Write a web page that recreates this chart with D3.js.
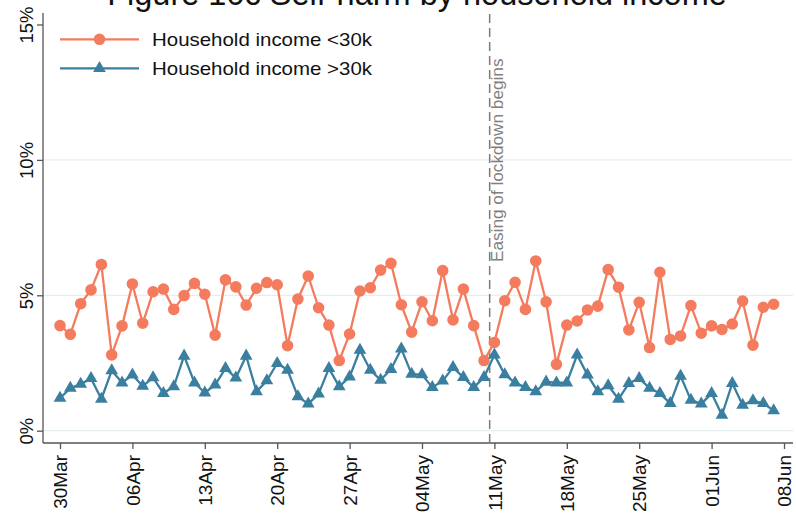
<!DOCTYPE html>
<html><head><meta charset="utf-8">
<script src="https://cdn.jsdelivr.net/npm/d3@7"></script>
<style>
html,body{margin:0;padding:0;background:#fff;}
svg{display:block;font-family:"Liberation Sans",Arial,sans-serif;}
</style>
</head><body>
<svg id="chart" width="796" height="521"></svg>
<script>
const title = "Figure 10c Self-harm by household income";
const seriesNames = ["Household income <30k", "Household income >30k"];
const dates = [
"2020-03-30","2020-03-31","2020-04-01","2020-04-02","2020-04-03","2020-04-04","2020-04-05",
"2020-04-06","2020-04-07","2020-04-08","2020-04-09","2020-04-10","2020-04-11","2020-04-12",
"2020-04-13","2020-04-14","2020-04-15","2020-04-16","2020-04-17","2020-04-18","2020-04-19",
"2020-04-20","2020-04-21","2020-04-22","2020-04-23","2020-04-24","2020-04-25","2020-04-26",
"2020-04-27","2020-04-28","2020-04-29","2020-04-30","2020-05-01","2020-05-02","2020-05-03",
"2020-05-04","2020-05-05","2020-05-06","2020-05-07","2020-05-08","2020-05-09","2020-05-10",
"2020-05-11","2020-05-12","2020-05-13","2020-05-14","2020-05-15","2020-05-16","2020-05-17",
"2020-05-18","2020-05-19","2020-05-20","2020-05-21","2020-05-22","2020-05-23","2020-05-24",
"2020-05-25","2020-05-26","2020-05-27","2020-05-28","2020-05-29","2020-05-30","2020-05-31",
"2020-06-01","2020-06-02","2020-06-03","2020-06-04","2020-06-05","2020-06-06","2020-06-07"];
const lowIncome = [
3.88,3.56,4.69,5.20,6.14,2.80,3.87,5.42,3.97,5.13,
5.23,4.48,4.99,5.44,5.04,3.53,5.57,5.31,4.64,5.26,
5.47,5.39,3.14,4.86,5.71,4.54,3.90,2.59,3.57,5.16,
5.28,5.93,6.18,4.65,3.64,4.76,4.06,5.91,4.09,5.23,
3.88,2.59,3.26,4.80,5.48,4.48,6.27,4.76,2.45,3.90,
4.05,4.46,4.60,5.95,5.30,3.72,4.74,3.07,5.85,3.37,
3.50,4.62,3.60,3.87,3.74,3.94,4.79,3.16,4.56,4.67];
const highIncome = [
1.20,1.57,1.72,1.93,1.17,2.22,1.77,2.06,1.65,1.96,
1.38,1.63,2.76,1.77,1.40,1.69,2.30,1.95,2.76,1.44,
1.85,2.49,2.24,1.26,0.99,1.36,2.30,1.63,1.99,2.98,
2.24,1.87,2.27,3.02,2.09,2.07,1.60,1.84,2.34,1.97,
1.60,1.97,2.80,2.07,1.77,1.60,1.44,1.80,1.77,1.77,
2.80,2.06,1.44,1.67,1.17,1.75,1.93,1.57,1.38,1.01,
2.02,1.13,0.99,1.38,0.58,1.75,0.95,1.11,1.01,0.74];
const xTickDates = ["2020-03-30","2020-04-06","2020-04-13","2020-04-20","2020-04-27","2020-05-04","2020-05-11","2020-05-18","2020-05-25","2020-06-01","2020-06-08"];
const xTickLabels = ["30Mar","06Apr","13Apr","20Apr","27Apr","04May","11May","18May","25May","01Jun","08Jun"];
const yTicks = [0,5,10,15];
const yGrid = [0,5,10];
const eventDate = "2020-05-10T13:00";
const eventLabel = "Easing of lockdown begins";

const colors = ["#F47B5D", "#3A7FA0"];
const parse = s => new Date(s.length > 10 ? s : s + "T00:00");

const svg = d3.select("#chart");
const x = d3.scaleTime().domain([parse(xTickDates[0]), parse(xTickDates[xTickDates.length-1])]).range([60, 784]);
const y = d3.scaleLinear().domain([0, 15]).range([430.7, 24.5]);
const axisY = 443, axisX = 43;

// gridlines
svg.append("g").selectAll("line").data(yGrid).join("line")
  .attr("x1", axisX).attr("x2", 793).attr("y1", d => y(d)).attr("y2", d => y(d))
  .attr("stroke", "#E6EEEF").attr("stroke-width", 1.2);

// title (cut off at the top, as in the reference)
svg.append("text").attr("x", 417).attr("y", 5).attr("text-anchor", "middle")
  .attr("font-size", 32.5).attr("fill", "#111").text(title);

// x axis
const xAxis = d3.axisBottom(x)
  .tickValues(xTickDates.map(parse))
  .tickFormat((d, i) => xTickLabels[i])
  .tickSize(6).tickSizeOuter(0);
const gx = svg.append("g").attr("transform", `translate(0,${axisY})`).call(xAxis);
gx.select(".domain").attr("d", `M${axisX},0H793`).attr("stroke", "#555").attr("stroke-width", 1.3);
gx.selectAll(".tick line").attr("stroke", "#555").attr("stroke-width", 1.3);
gx.selectAll(".tick text")
  .attr("font-size", 19).attr("fill", "#111").attr("font-family", "Liberation Sans, Arial, sans-serif")
  .attr("transform", "rotate(-90)").attr("text-anchor", "end")
  .attr("x", -12).attr("y", 0).attr("dy", "0.35em");

// y axis
const yAxis = d3.axisLeft(y).tickValues(yTicks).tickFormat(d => d + "%").tickSize(6).tickSizeOuter(0);
const gy = svg.append("g").attr("transform", `translate(${axisX},0)`).call(yAxis);
gy.select(".domain").attr("d", `M0,${axisY}V13`).attr("stroke", "#555").attr("stroke-width", 1.3);
gy.selectAll(".tick line").attr("stroke", "#555").attr("stroke-width", 1.3);
gy.selectAll(".tick text")
  .attr("font-size", 18.5).attr("fill", "#111").attr("font-family", "Liberation Sans, Arial, sans-serif")
  .attr("transform", "rotate(-90)").attr("text-anchor", "middle")
  .attr("x", 0).attr("y", -10).attr("dy", 0);

// event line
const ex = x(parse(eventDate));
svg.append("line").attr("x1", ex).attr("x2", ex).attr("y1", 14).attr("y2", axisY)
  .attr("stroke", "#7a7a7a").attr("stroke-width", 1.5).attr("stroke-dasharray", "9,5");
svg.append("text").attr("transform", `translate(${ex + 13},262) rotate(-90)`)
  .attr("font-size", 17.2).attr("fill", "#808080").text(eventLabel);

// series
const series = [lowIncome, highIncome];
const line = d3.line().x((d, i) => x(parse(dates[i]))).y(d => y(d));
const symbols = [d3.symbol().type(d3.symbolCircle).size(105), d3.symbol().type(d3.symbolTriangle).size(70)];
series.forEach((vals, k) => {
  svg.append("path").datum(vals).attr("d", line).attr("fill", "none")
    .attr("stroke", colors[k]).attr("stroke-width", 2.3).attr("stroke-linejoin", "round");
  svg.append("g").selectAll("path").data(vals).join("path")
    .attr("transform", (d, i) => `translate(${x(parse(dates[i]))},${y(d)})`)
    .attr("d", symbols[k]).attr("fill", colors[k]);
});

// legend
const leg = svg.append("g");
seriesNames.forEach((name, k) => {
  const ly = 39.3 + k * 29;
  leg.append("line").attr("x1", 60).attr("x2", 139).attr("y1", ly).attr("y2", ly)
    .attr("stroke", colors[k]).attr("stroke-width", 2.3);
  leg.append("path").attr("transform", `translate(99.5,${ly})`).attr("d", symbols[k]).attr("fill", colors[k]);
  leg.append("text").attr("x", 152).attr("y", ly).attr("dy", "0.35em")
    .attr("font-size", 18.5).attr("fill", "#111").attr("textLength", 220).attr("lengthAdjust", "spacingAndGlyphs").text(name);
});
</script>
</body></html>
